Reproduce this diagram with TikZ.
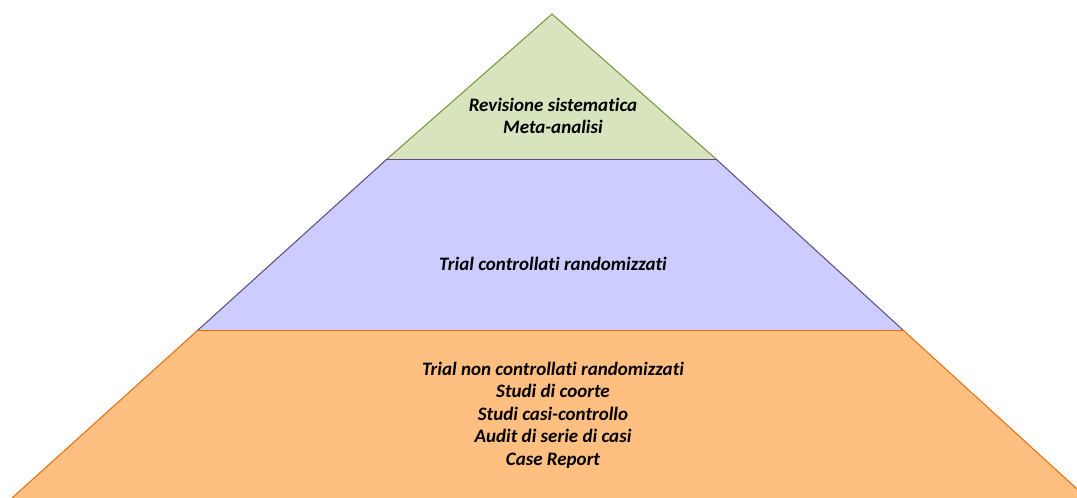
\documentclass[tikz,border=0pt]{standalone}
\usepackage{fontspec}
\setmainfont{Carlito}[Ligatures=NoCommon]
\usetikzlibrary{positioning}
\definecolor{topfill}{HTML}{D7E4BD}
\definecolor{topline}{HTML}{77933C}
\definecolor{midfill}{HTML}{CCCCFF}
\definecolor{midline}{HTML}{5F497A}
\definecolor{lowfill}{HTML}{FFBF80}
\definecolor{lowline}{HTML}{E46C0A}
\begin{document}
\begin{tikzpicture}[
		x=1pt,y=-1pt,
		tier/.style={line width=1pt,line join=miter},
		every node/.style={
			font=\fontsize{19}{22.5}\selectfont\bfseries\itshape,
			align=center,
			inner sep=0pt
		}
		]
		
		\useasboundingbox (0,0) rectangle (1077,498);
		\clip (0,0) rectangle (1077,498);
		
		\coordinate (apex) at (552,14);
		\coordinate (tl) at (387,159);
		\coordinate (tr) at (716,159);
		\coordinate (ml) at (198,330);
		\coordinate (mr) at (903,330);
		\coordinate (bl) at (12,498);
		\coordinate (br) at (1087,498);
		
		\filldraw[tier,fill=lowfill,draw=lowline] (bl)--(ml)--(mr)--(br);
		\filldraw[tier,fill=midfill,draw=midline] (ml)--(tl)--(tr)--(mr);
		\filldraw[tier,fill=topfill,draw=topline] (tl)--(apex)--(tr);
		\draw[tier,draw=midline] (tl)--(tr);
		\draw[tier,draw=lowline] (ml)--(mr);
		
		\node (meta) at (553,116) {Revisione sistematica\\Meta-analisi};
		
		\node (rct) at (553,264) {Trial controllati randomizzati};
		
		\node (obs) at (553,415) {Trial non controllati randomizzati\\Studi di coorte\\Studi casi-controllo\\Audit di serie di casi\\Case Report};
		
	\end{tikzpicture}
\end{document}
